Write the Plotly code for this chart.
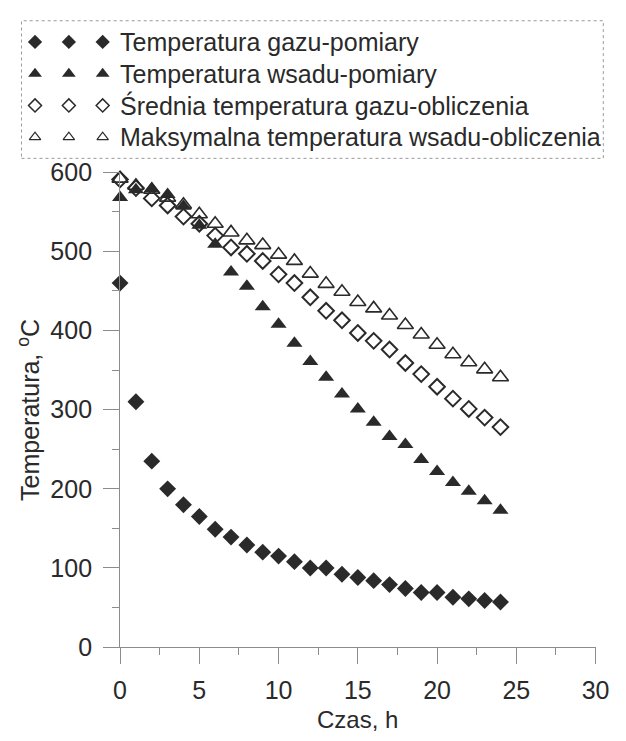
import plotly.graph_objects as go

# Czas pomiaru [h]
czas = list(range(25))

# Temperatury [°C]
gaz_pomiar = [460, 310, 235, 200, 180, 165, 149, 139, 129, 120, 115, 108, 100,
              100, 92, 88, 84, 79, 74, 69, 69, 63, 61, 59, 57]
wsad_pomiar = [568, 578, 579, 572, 557, 533, 509, 474, 456, 430, 408, 384, 361,
               341, 320, 301, 284, 266, 256, 237, 222, 208, 197, 185, 173]
gaz_oblicz = [591, 580, 567, 558, 544, 535, 520, 505, 497, 488, 471, 460, 442,
              425, 413, 397, 387, 376, 359, 345, 329, 314, 301, 290, 278]
wsad_max = [592, 583, 578, 568, 559, 547, 535, 524, 514, 508, 496, 488, 472,
            459, 449, 436, 428, 419, 407, 395, 382, 370, 360, 351, 341]

nazwy = [
    "Temperatura gazu-pomiary",
    "Temperatura wsadu-pomiary",
    "Średnia temperatura gazu-obliczenia",
    "Maksymalna temperatura wsadu-obliczenia",
]
x_ticks = [0, 5, 10, 15, 20, 25, 30]
y_ticks = [0, 100, 200, 300, 400, 500, 600]

INK = "#2a2a2a"
AXIS = "#8c8c8c"
FONT = "Liberation Sans, Arial, sans-serif"

# marker styles: (symbol, size in plot, size in legend, outline width)
styles = [
    ("diamond", 13, 11, 0),
    ("triangle-up", 14, 12, 0),
    ("diamond-open", 12, 10, 2),
    ("triangle-up-open", 14, 10, 1.6),
]
series = [gaz_pomiar, wsad_pomiar, gaz_oblicz, wsad_max]

W, H = 626, 741
fig = go.Figure()

for name, ys, (sym, size, _, lw) in zip(nazwy, series, styles):
    fig.add_trace(go.Scatter(
        x=czas, y=ys, mode="markers", name=name, showlegend=False,
        cliponaxis=False,
        marker=dict(symbol=sym, size=size, color=INK,
                    line=dict(width=lw, color=INK)),
    ))

# Legend box: three key markers per row, then the label
slots = [0, 1, 2]
for row, (name, (sym, _, lsize, lw)) in enumerate(zip(nazwy, styles)):
    fig.add_trace(go.Scatter(
        x=slots, y=[row] * len(slots), mode="markers", xaxis="x2", yaxis="y2",
        showlegend=False, hoverinfo="skip", cliponaxis=False,
        marker=dict(symbol=sym, size=lsize, color=INK,
                    line=dict(width=lw * 0.75, color=INK)),
    ))
    fig.add_annotation(
        x=slots[-1], y=row, xref="x2", yref="y2", text=name,
        showarrow=False, xanchor="left", yanchor="middle", xshift=15,
        font=dict(family=FONT, size=25, color=INK),
    )

# plot area in pixels
px_l, px_r, px_t, px_b = 117, 609, 164.5, 658
leg_l, leg_r, leg_t, leg_b = 15, 617, 7, 150

axis_common = dict(
    showgrid=False, zeroline=False, showline=True, linecolor=AXIS, linewidth=1,
    ticks="outside", ticklen=16, tickwidth=1, tickcolor=AXIS,
    tickfont=dict(family=FONT, size=25, color=INK),
)

fig.update_layout(
    width=W, height=H,
    margin=dict(l=0, r=0, t=0, b=0),
    paper_bgcolor="white", plot_bgcolor="white",
    showlegend=False,
    xaxis=dict(
        domain=[px_l / W, px_r / W], range=[0, 30],
        tickvals=x_ticks, ticklabelstandoff=5,
        minor=dict(dtick=2.5, ticks="outside", ticklen=7, tickcolor=AXIS),
        anchor="y", **axis_common,
    ),
    yaxis=dict(
        domain=[(H - px_b) / H, (H - px_t) / H], range=[0, 600],
        tickvals=y_ticks, ticklabelstandoff=6,
        minor=dict(dtick=50, ticks="outside", ticklen=7, tickcolor=AXIS),
        anchor="x", **axis_common,
    ),
    xaxis2=dict(
        domain=[leg_l / W, leg_r / W], range=[-0.4, 16.8],
        visible=False, anchor="y2", fixedrange=True,
    ),
    yaxis2=dict(
        domain=[(H - leg_b) / H, (H - leg_t) / H], range=[3.667, -0.667],
        visible=False, anchor="x2", fixedrange=True,
    ),
    shapes=[dict(
        type="rect", xref="x2 domain", yref="y2 domain",
        x0=0, x1=1, y0=0, y1=1,
        line=dict(color="#9a9a9a", width=1, dash="dot"),
    )],
)

# axis titles
fig.add_annotation(
    x=(px_l + px_r) / 2 / W, y=(H - 733) / H, xref="paper", yref="paper",
    text="Czas, h", showarrow=False, xanchor="center", yanchor="middle",
    font=dict(family=FONT, size=24, color=INK),
)
fig.add_annotation(
    x=22 / W, y=(H - (px_t + px_b) / 2) / H, xref="paper", yref="paper",
    text="Temperatura, <sup>o</sup>C", textangle=-90, showarrow=False,
    xanchor="center", yanchor="middle",
    font=dict(family=FONT, size=25, color=INK),
)

fig.write_html("out.html")
